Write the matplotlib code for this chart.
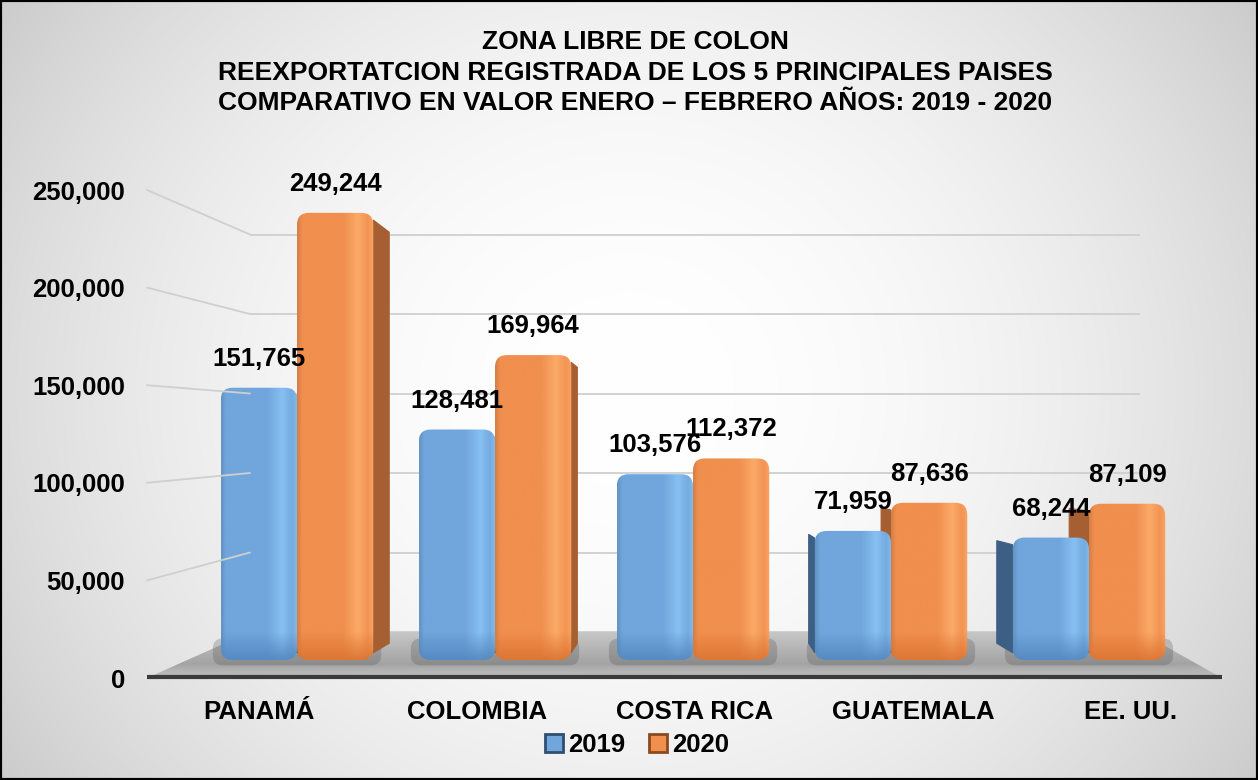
import numpy as np
import matplotlib
matplotlib.use('Agg')
import matplotlib.pyplot as plt
from matplotlib.patches import FancyBboxPatch, Polygon, Patch, ConnectionPatch

plt.rcParams['font.family'] = ['Liberation Sans', 'DejaVu Sans']
plt.rcParams['font.weight'] = 'bold'

# data
countries = ['PANAMÁ', 'COLOMBIA', 'COSTA RICA', 'GUATEMALA', 'EE. UU.']
years = ['2019', '2020']
v2019 = [151765, 128481, 103576, 71959, 68244]
v2020 = [249244, 169964, 112372, 87636, 87109]
yticks = [0, 50000, 100000, 150000, 200000, 250000]
title_lines = ['ZONA LIBRE DE COLON',
               'REEXPORTATCION REGISTRADA DE LOS 5 PRINCIPALES PAISES',
               'COMPARATIVO EN VALOR ENERO \u2013 FEBRERO AÑOS: 2019 - 2020']

W, H = 1258, 780
fig = plt.figure(figsize=(W / 100, H / 100), dpi=100)


def px_axes(x0, y0, x1, y1):
    # box given in pixels, origin top-left
    a = fig.add_axes([x0 / W, 1 - y1 / H, (x1 - x0) / W, (y1 - y0) / H])
    a.patch.set_visible(False)
    for s in a.spines.values():
        s.set_visible(False)
    return a


# background with soft gradient and black frame
bg = fig.add_axes([0, 0, 1, 1])
bg.set_xlim(0, W)
bg.set_ylim(H, 0)
yy, xx = np.mgrid[0:H, 0:W]
dx = (xx - W / 2) / (W / 2)
dy = (yy - H / 2) / (H / 2)
shade = (255 - 46 * (0.78 * dx ** 2 + 0.35 * dy ** 2)) / 255
bg.imshow(np.dstack([shade] * 3), extent=(0, W, H, 0), aspect='auto', zorder=0)
bg.set_xticks([])
bg.set_yticks([])
for s in bg.spines.values():
    s.set_linewidth(3)
    s.set_color('black')

# floor
floor = Polygon([(147, 678), (250, 632), (1140, 632), (1222, 678)], closed=True,
                facecolor='none', edgecolor='none', zorder=1)
bg.add_patch(floor)
fy = np.linspace(0, 1, 100)[:, None]
fgray = np.interp(fy, [0, 0.7, 0.85, 1], [0.78, 0.64, 0.71, 0.73])
fimg = np.dstack([np.repeat(fgray, 10, axis=1)] * 3)
fim = bg.imshow(fimg, extent=(147, 1222, 678, 632), aspect='auto', zorder=1)
fim.set_clip_path(floor)
bg.plot([147, 1222], [677, 677], color='#3a3a3a', lw=3, zorder=2, solid_capstyle='butt')
bg.set_xlim(0, W)
bg.set_ylim(H, 0)

# back wall gridlines
back_top = 212
axb = px_axes(250, back_top, 1140, 632)
axb.set_ylim(0, (632 - back_top) / 1.59 * 1000)
axb.set_xlim(0, 1)
axb.set_yticks(yticks)
axb.set_xticks([])
axb.tick_params(left=False, labelleft=False)
axb.grid(axis='y', color='#cfcfcf', lw=1.3)

# front value axis (labels)
axl = px_axes(147, 678 - 500, 148, 678)
axl.set_ylim(0, 500 / 97.6 * 50000)
axl.set_yticks(yticks)
axl.set_yticklabels([f'{v:,}' for v in yticks], fontsize=18.5, fontweight='bold')
axl.set_xticks([])
axl.tick_params(axis='y', length=0, pad=16)

for v in yticks[1:]:
    con = ConnectionPatch(xyA=(0, v), coordsA=axl.transData, xyB=(0, v), coordsB=axb.transData,
                          color='#cfcfcf', lw=1.3, zorder=1)
    fig.add_artist(con)

# category labels (front edge of the floor)
axc = px_axes(150, 678, 1240, 679)
axc.set_xlim(-0.5, 4.5)
axc.set_yticks([])
axc.set_xticks(range(len(countries)))
axc.set_xticklabels(countries, fontsize=18.5, fontweight='bold')
axc.tick_params(axis='x', length=0, pad=15)

# bars
ax = px_axes(198, 160, 1188, 660)
ymax = 500 / 1.794 * 1000
ax.set_xlim(-0.5, 4.5)
ax.set_ylim(0, ymax)
ax.set_xticks([])
ax.set_yticks([])
sx = 990 / 5
sy = 500 / ymax
aspect = sx / sy
rad = 12 / sx
bw = 0.385
k = 0.95
vx, hy = 2.0, 110000

colors = {
    '2019': dict(base=(112, 166, 220), hi=(135, 192, 242), low=(86, 138, 194), side='#3d5f85', edge='#2f4f70'),
    '2020': dict(base=(240, 143, 78), hi=(252, 170, 104), low=(222, 118, 52), side='#a65f32', edge='#8a4a20'),
}


def face_image(c, nx=60, ny=200, hpx=400):
    t = np.linspace(0, 1, nx)
    prof = np.interp(t, [0, 0.06, 0.6, 0.8, 0.93, 1], [0.9, 0, 0, 1, 0.2, 0.8])
    base = np.array(c['base']) / 255
    hi = np.array(c['hi']) / 255
    low = np.array(c['low']) / 255
    row = base[None, :] + (hi - base)[None, :] * np.clip(prof, 0, 1)[:, None] * (t > 0.3)[:, None]
    edge_dark = np.where(t < 0.3, prof, 0) * 0.12
    row = row * (1 - edge_dark[:, None])
    dpx = np.linspace(0, 1, ny) * hpx
    w = np.clip(dpx / 28, 0, 1)[:, None, None]
    img = row[None, :, :] * w + (low[None, None, :] * (0.85 + 0.15 * row[None, :, :] / base)) * (1 - w)
    return np.clip(img, 0, 1)


series = [('2019', v2019, -bw / 2), ('2020', v2020, bw / 2)]

# side faces first
for yr, vals, off in series:
    c = colors[yr]
    for i, v in enumerate(vals):
        cx = i + off
        x0, x1 = cx - bw / 2, cx + bw / 2
        xe = x1 if cx < vx else x0
        xb = vx + (xe - vx) * k
        if abs(xb - xe) < 0.01:
            continue
        ry = rad * aspect * 0.6
        top = v - ry
        pts = [(xe, ry), (xe, top), (xb, hy + (top - hy) * k), (xb, hy + (ry - hy) * k)]
        ax.add_patch(Polygon(pts, closed=True, facecolor=c['side'], edgecolor=c['side'],
                             lw=0.8, zorder=2, clip_on=False))

# floor shadow under groups
for i in range(len(countries)):
    ax.add_patch(FancyBboxPatch((i - bw - 0.04, -3000), 2 * bw + 0.08, 15000,
                                boxstyle=f'round,pad=0,rounding_size={0.05}',
                                mutation_aspect=aspect, facecolor='#4a4a4a', alpha=0.25,
                                edgecolor='none', zorder=1.5, clip_on=False))

# front faces
for yr, vals, off in series:
    c = colors[yr]
    for i, v in enumerate(vals):
        cx = i + off
        x0 = cx - bw / 2
        p = FancyBboxPatch((x0, 0), bw, v, boxstyle=f'round,pad=0,rounding_size={rad}',
                           mutation_aspect=aspect, facecolor='none', edgecolor='none',
                           zorder=3, clip_on=False)
        ax.add_patch(p)
        im = ax.imshow(face_image(c, hpx=v * sy), extent=(x0, x0 + bw, 0, v), origin='lower',
                       aspect='auto', zorder=3, interpolation='bilinear')
        im.set_clip_path(p)
        ax.annotate(f'{v:,}', (cx, v), xytext=(0, 17), textcoords='offset pixels',
                    ha='center', va='bottom', fontsize=18.5, fontweight='bold', zorder=6,
                    annotation_clip=False)

ax.set_xlim(-0.5, 4.5)
ax.set_ylim(0, ymax)

# title
for j, line in enumerate(title_lines):
    fig.text(635 / W, 1 - (42 + 30.5 * j) / H, line, ha='center', va='center',
             fontsize=19, fontweight='bold')

# legend
handles = [Patch(facecolor=np.array(colors[y]['base']) / 255, edgecolor=colors[y]['edge'], lw=2)
           for y in years]
fig.legend(handles, years, loc='center', bbox_to_anchor=(637 / W, 1 - 745 / H), ncol=2,
           frameon=False, handlelength=0.7, handleheight=0.7, handletextpad=0.2,
           columnspacing=0.9, prop={'size': 18.5, 'weight': 'bold'})

fig.savefig('out.png', dpi=100)
